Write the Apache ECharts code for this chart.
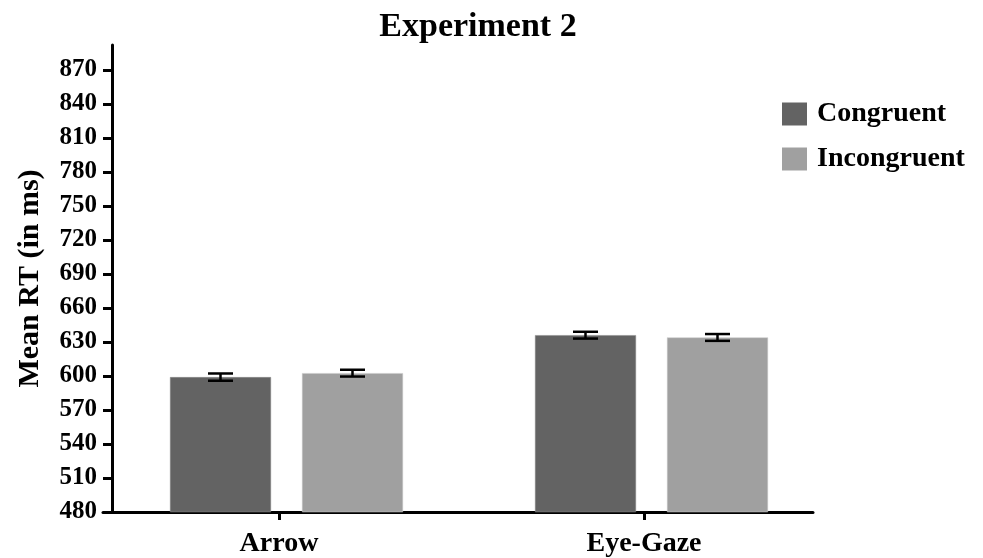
<!DOCTYPE html>
<html>
<head>
<meta charset="utf-8">
<script src="https://cdn.jsdelivr.net/npm/echarts@6/dist/echarts.min.js"></script>
<style>
  html, body { margin: 0; padding: 0; background: #fff; }
  #chart { width: 983px; height: 558px; }
</style>
</head>
<body>
<div id="chart"></div>
<script>
// Mean reaction times (ms) with standard errors, per cue type
const categories = ['Arrow', 'Eye-Gaze'];
const seriesNames = ['Congruent', 'Incongruent'];
const congruentMeans = [599, 636];
const incongruentMeans = [602.5, 634];
const congruentErr = [3.2, 3];
const incongruentErr = [3, 3];
const yTicks = [480, 510, 540, 570, 600, 630, 660, 690, 720, 750, 780, 810, 840, 870];
const yMin = 480;
const yMax = 892;

const FONT = 'Liberation Serif';
const DARK = '#636363';
const LIGHT = '#a0a0a0';
const BAR_W = 101;
const BAR_GAP = 31;
const HALF_STEP = (BAR_W + BAR_GAP) / 2;

const plotTop = 45;
const plotHeight = 467;

// error bar items: [categoryIndex, mean, err, side]
const errData = [];
categories.forEach((c, i) => {
  errData.push([i, congruentMeans[i], congruentErr[i], -1]);
  errData.push([i, incongruentMeans[i], incongruentErr[i], 1]);
});

function renderErr(params, api) {
  const idx = api.value(0);
  const mean = api.value(1);
  const err = api.value(2);
  const side = api.value(3);
  const c = api.coord([idx, mean]);
  const x = c[0] + side * HALF_STEP;
  const yHi = api.coord([idx, mean + err])[1];
  const yLo = api.coord([idx, mean - err])[1];
  const cap = 12.5;
  const style = { stroke: '#000', lineWidth: 2.5 };
  return {
    type: 'group',
    children: [
      { type: 'line', shape: { x1: x, y1: yHi, x2: x, y2: yLo }, style },
      { type: 'line', shape: { x1: x - cap, y1: yHi, x2: x + cap, y2: yHi }, style },
      { type: 'line', shape: { x1: x - cap, y1: yLo, x2: x + cap, y2: yLo }, style }
    ]
  };
}

const hiddenValueY = (gridIndex) => ({
  type: 'value', gridIndex, min: yMin, max: yMax, show: false
});

const chart = echarts.init(document.getElementById('chart'), null, { renderer: 'canvas' });
chart.setOption({
  animation: false,
  backgroundColor: '#fff',
  textStyle: { fontFamily: FONT },
  title: {
    text: 'Experiment 2',
    left: 473,
    top: 5,
    textAlign: 'center',
    textStyle: { fontFamily: FONT, fontSize: 34, fontWeight: 'bold', color: '#000' }
  },
  legend: {
    data: seriesNames,
    orient: 'vertical',
    left: 777,
    top: 95,
    itemWidth: 25,
    itemHeight: 23,
    itemGap: 17,
    icon: 'rect',
    itemStyle: { borderWidth: 0 },
    textStyle: { fontFamily: FONT, fontSize: 28, fontWeight: 'bold', color: '#000', padding: [0, 0, 0, 5] }
  },
  grid: [
    // bars
    { left: 104, top: plotTop, width: 730, height: plotHeight },
    // visible y axis
    { left: 112, top: plotTop, width: 701, height: plotHeight },
    // x axis baseline
    { left: 103, top: plotTop, width: 710, height: plotHeight },
    // category ticks and labels
    { left: 96.5, top: plotTop, width: 730, height: plotHeight }
  ],
  xAxis: [
    { type: 'category', gridIndex: 0, data: categories, show: false },
    { type: 'value', gridIndex: 1, show: false },
    {
      type: 'value', gridIndex: 2, min: 0, max: 1,
      axisLine: { show: true, lineStyle: { color: '#000', width: 3 } },
      axisTick: { show: false }, axisLabel: { show: false }, splitLine: { show: false }
    },
    {
      type: 'category', gridIndex: 3, data: categories,
      axisLine: { show: false },
      axisTick: { show: true, alignWithLabel: true, length: 9, lineStyle: { color: '#000', width: 3 } },
      axisLabel: { fontFamily: FONT, fontSize: 28, fontWeight: 'bold', color: '#000', margin: 19 },
      splitLine: { show: false }
    }
  ],
  yAxis: [
    hiddenValueY(0),
    {
      type: 'value', gridIndex: 1, min: yMin, max: yMax,
      name: 'Mean RT (in ms)',
      nameLocation: 'middle',
      nameGap: 67,
      nameTextStyle: { fontFamily: FONT, fontSize: 30, fontWeight: 'bold', color: '#000' },
      axisLine: { show: true, lineStyle: { color: '#000', width: 3 } },
      axisTick: { show: true, length: 9, lineStyle: { color: '#000', width: 3 }, customValues: yTicks },
      axisLabel: { fontFamily: FONT, fontSize: 25, fontWeight: 'bold', color: '#000', margin: 15, customValues: yTicks },
      splitLine: { show: false }
    },
    hiddenValueY(2),
    hiddenValueY(3)
  ],
  series: [
    {
      name: 'Congruent', type: 'bar', xAxisIndex: 0, yAxisIndex: 0,
      data: congruentMeans, barWidth: BAR_W, barGap: (BAR_GAP / BAR_W * 100) + '%',
      itemStyle: { color: DARK, borderColor: '#888', borderWidth: 0.5 }
    },
    {
      name: 'Incongruent', type: 'bar', xAxisIndex: 0, yAxisIndex: 0,
      data: incongruentMeans, barWidth: BAR_W,
      itemStyle: { color: LIGHT, borderColor: '#c8c8c8', borderWidth: 0.5 }
    },
    {
      name: 'SE', type: 'custom', xAxisIndex: 0, yAxisIndex: 0,
      data: errData, renderItem: renderErr, z: 5, silent: true
    }
  ]
});
</script>
</body>
</html>
